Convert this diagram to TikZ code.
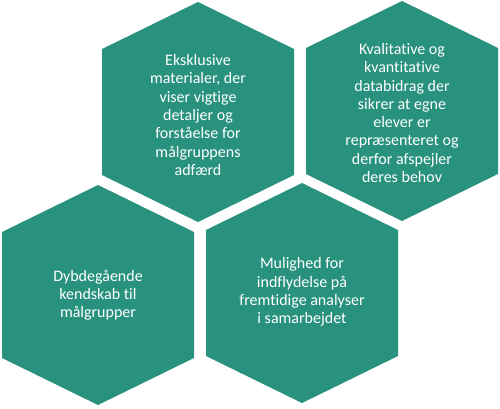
\documentclass[tikz,border=0pt]{standalone}
\usepackage{fontspec}
\setmainfont{Carlito}[Ligatures={NoCommon}]
\definecolor{hexteal}{RGB}{40,146,126}
\newcommand\hexat[2]{\fill[hexshape] (#1,#2) ++(0,-110) -- ++(96,47) -- ++(0,126) -- ++(-96,47) -- ++(-96,-47) -- ++(0,-126) -- cycle;}
\begin{document}
\begin{tikzpicture}[x=1pt,y=-1pt,
  hexshape/.style={fill=hexteal,draw=none},
  hextext/.style={text=white,align=center,inner sep=0pt,font=\fontsize{16}{18.3}\selectfont}]
\useasboundingbox (0,0) rectangle (500,408);
\hexat{198}{112}
\hexat{402}{111}
\hexat{98}{295}
\hexat{302}{293}
\node[hextext] (h1) at (198,115) {Eksklusive\\materialer, der\\viser vigtige\\detaljer og\\forståelse for\\målgruppens\\adfærd};
\node[hextext] (h2) at (402,113) {Kvalitative og\\kvantitative\\databidrag der\\sikrer at egne\\elever er\\repræsenteret og\\derfor afspejler\\deres behov};
\node[hextext] (h3) at (98,295) {Dybdegående\\kendskab til\\målgrupper};
\node[hextext] (h4) at (302,292) {Mulighed for\\indflydelse på\\fremtidige analyser\\i samarbejdet};
\end{tikzpicture}
\end{document}
